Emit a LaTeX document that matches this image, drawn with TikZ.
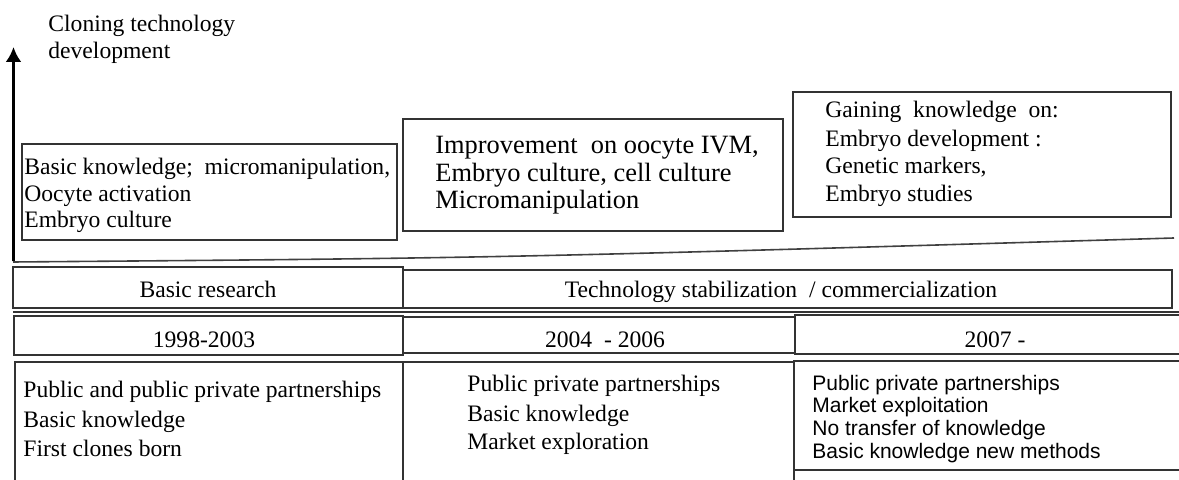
\documentclass[tikz,border=0pt]{standalone}
\usepackage{fontspec}
\setmainfont{Liberation Serif}
\newfontfamily\arialfont{Liberation Sans}
\usetikzlibrary{arrows.meta}
\begin{document}
\begin{tikzpicture}[x=0.5pt,y=-0.5pt,
  cell/.style={draw=black!80, line width=0.7pt},
  txt/.style={anchor=base west, inner sep=0, font=\fontsize{11.8}{14}\selectfont},
  big/.style={anchor=base west, inner sep=0, font=\fontsize{13.2}{16}\selectfont},
  sans/.style={anchor=base west, inner sep=0, font=\arialfont\fontsize{10.5}{12}\selectfont},
  ctr/.style={anchor=base, inner sep=0, font=\fontsize{11.8}{14}\selectfont}]
\useasboundingbox (0,0) rectangle (1179,480);
\clip (0,0) rectangle (1179,480);

% title and arrow
\node[txt] (title1) at (48,32) {Cloning technology};
\node[txt] (title2) at (48,59) {development};
\coordinate (abot) at (13.5,261);
\coordinate (atop) at (13.5,47);
\draw[line width=1.8pt, -{Latex[length=7.5pt,width=8pt]}] (abot) -- (atop);

% upper boxes
\draw[cell] (22,144) rectangle (397,240);
\node[txt] (k1a) at (24,175) {Basic knowledge;\ \ micromanipulation,};
\node[txt] (k1b) at (24,202) {Oocyte activation};
\node[txt] (k1c) at (24,228) {Embryo culture};

\draw[cell] (403,119) rectangle (783,231);
\node[big] (k2a) at (435,154) {Improvement\ \ on oocyte IVM,};
\node[big] (k2b) at (435,182) {Embryo culture, cell culture};
\node[big] (k2c) at (435,209) {Micromanipulation};

\draw[cell] (793,92) rectangle (1171,217);
\node[txt] (k3a) at (825,118) {Gaining\ \ knowledge\ \ on:};
\node[txt] (k3b) at (825,147) {Embryo development :};
\node[txt] (k3c) at (825,174) {Genetic markers,};
\node[txt] (k3d) at (825,202) {Embryo studies};

% slanted development line
\coordinate (sl) at (13,262);
\coordinate (sr) at (1174,238);
\draw[black!75, line width=0.8pt] (sl) .. controls (500,258) .. (sr);

% row 1
\draw[cell] (13,267) rectangle (403,308);
\node[ctr] (r1a) at (208,298) {Basic research};
\draw[cell] (403,270) rectangle (1172,308);
\node[ctr] (r1b) at (781,298) {Technology stabilization\ \ / commercialization};
\coordinate (hl) at (13,312);
\coordinate (hr) at (1179,312);
\draw[cell] (hl) -- (hr);

% row 2
\draw[cell] (14,316) rectangle (403,355);
\node[ctr] (r2a) at (204,348) {1998-2003};
\draw[cell] (403,317) rectangle (795,353);
\node[ctr] (r2b) at (605,348) {2004\ \ - 2006};
\draw[cell] (795,315) rectangle (1190,354);
\node[ctr] (r2c) at (995,348) {2007 -};

% row 3
\draw[cell] (15,362) rectangle (403,495);
\node[txt] (p1a) at (23,398) {Public and public private partnerships};
\node[txt] (p1b) at (23,428) {Basic knowledge};
\node[txt] (p1c) at (23,457) {First clones born};

\draw[cell] (403,362) rectangle (794,495);
\node[txt] (p2a) at (467,392) {Public private partnerships};
\node[txt] (p2b) at (467,422) {Basic knowledge};
\node[txt] (p2c) at (467,450) {Market exploration};

\draw[cell] (794,361) rectangle (1190,470);
\node[sans] (p3a) at (812,391) {Public private partnerships};
\node[sans] (p3b) at (812,413) {Market exploitation};
\node[sans] (p3c) at (812,436) {No transfer of knowledge};
\node[sans] (p3d) at (812,459) {Basic knowledge new methods};
\end{tikzpicture}
\end{document}
